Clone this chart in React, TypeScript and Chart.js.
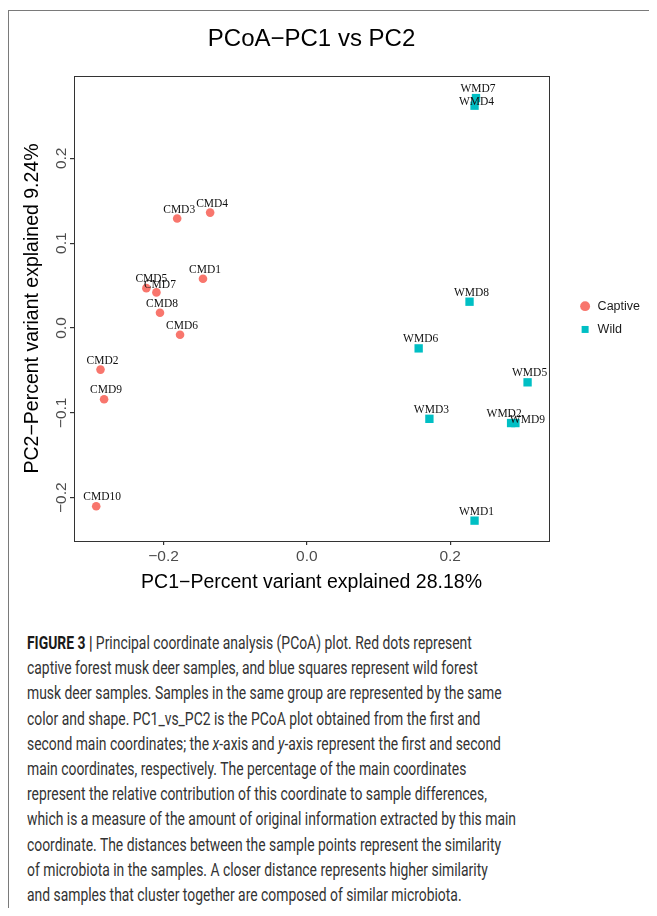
import React, { useEffect, useRef } from 'react';
import { Chart, registerables } from 'chart.js';

Chart.register(...registerables);

// ---------- data ----------
const captiveNames = ['CMD1', 'CMD2', 'CMD3', 'CMD4', 'CMD5', 'CMD6', 'CMD7', 'CMD8', 'CMD9', 'CMD10'];
const captivePC1 = [-0.145, -0.288, -0.181, -0.135, -0.224, -0.177, -0.21, -0.205, -0.283, -0.294];
const captivePC2 = [0.058, -0.049, 0.129, 0.136, 0.047, -0.008, 0.042, 0.018, -0.084, -0.21];

const wildNames = ['WMD1', 'WMD2', 'WMD3', 'WMD4', 'WMD5', 'WMD6', 'WMD7', 'WMD8', 'WMD9'];
const wildPC1 = [0.234, 0.285, 0.171, 0.234, 0.308, 0.156, 0.236, 0.227, 0.291];
const wildPC2 = [-0.227, -0.112, -0.107, 0.262, -0.064, -0.024, 0.271, 0.031, -0.112];

const groupNames = ['Captive', 'Wild'];
const xTickValues = [-0.2, 0.0, 0.2];
const yTickValues = [-0.2, -0.1, 0.0, 0.1, 0.2];
const xLimits = [-0.325, 0.338];
const yLimits = [-0.251, 0.297];

const chartTitle = 'PCoA\u2212PC1 vs PC2';
const xTitle = 'PC1\u2212Percent variant explained 28.18%';
const yTitle = 'PC2\u2212Percent variant explained 9.24%';

const captionLines: { text: string; style?: 'b' | 'i' }[][] = [
  [{ text: 'FIGURE 3 | ', style: 'b' }, { text: 'Principal coordinate analysis (PCoA) plot. Red dots represent' }],
  [{ text: 'captive forest musk deer samples, and blue squares represent wild forest' }],
  [{ text: 'musk deer samples. Samples in the same group are represented by the same' }],
  [{ text: 'color and shape. PC1_vs_PC2 is the PCoA plot obtained from the first and' }],
  [
    { text: 'second main coordinates; the ' },
    { text: 'x', style: 'i' },
    { text: '-axis and ' },
    { text: 'y', style: 'i' },
    { text: '-axis represent the first and second' },
  ],
  [{ text: 'main coordinates, respectively. The percentage of the main coordinates' }],
  [{ text: 'represent the relative contribution of this coordinate to sample differences,' }],
  [{ text: 'which is a measure of the amount of original information extracted by this main' }],
  [{ text: 'coordinate. The distances between the sample points represent the similarity' }],
  [{ text: 'of microbiota in the samples. A closer distance represents higher similarity' }],
  [{ text: 'and samples that cluster together are composed of similar microbiota.' }],
];

// ---------- styling ----------
const RED = '#F8766D';
const CYAN = '#00BFC4';
const SANS = '"Liberation Sans", Arial, sans-serif';
const SERIF = '"Liberation Serif", "Times New Roman", serif';
const CAPTION_FONT = '"Roboto", "Liberation Sans", sans-serif';

const labelNudge: Record<string, [number, number]> = {
  WMD4: [0, 5],
  WMD2: [-9, 0],
  WMD9: [10, 6],
  CMD10: [4, 0],
  CMD5: [3, 0],
  CMD7: [1.5, 2],
};
const datasetNames = [captiveNames, wildNames];

const pointLabelPlugin = {
  id: 'pointLabels',
  afterDatasetsDraw(chart: any) {
    const ctx = chart.ctx;
    ctx.save();
    ctx.font = `11.5px ${SERIF}`;
    ctx.fillStyle = '#111';
    ctx.textAlign = 'center';
    ctx.textBaseline = 'alphabetic';
    chart.data.datasets.forEach((_ds: any, i: number) => {
      const meta = chart.getDatasetMeta(i);
      meta.data.forEach((el: any, j: number) => {
        const name = datasetNames[i][j];
        const [dx, dy] = labelNudge[name] || [0, 0];
        ctx.fillText(name, el.x + 2 + dx, el.y - 6 + dy);
      });
    });
    ctx.restore();
  },
};

const fmt = (v: any) => Number(v).toFixed(1).replace('-', '\u2212');

const measureCtx = typeof document !== 'undefined' ? document.createElement('canvas').getContext('2d') : null;
function captionScale(): number {
  if (!measureCtx) return 0.75;
  measureCtx.font = `400 18.5px ${CAPTION_FONT}`;
  const w = measureCtx.measureText(captionLines[7][0].text).width;
  return 489 / w;
}

export default function App() {
  const canvasRef = useRef<HTMLCanvasElement>(null);

  useEffect(() => {
    const captive = captivePC1.map((x, i) => ({ x, y: captivePC2[i] }));
    const wild = wildPC1.map((x, i) => ({ x, y: wildPC2[i] }));
    const chart = new Chart(canvasRef.current!, {
      type: 'scatter',
      data: {
        datasets: [
          {
            label: groupNames[0],
            data: captive,
            backgroundColor: RED,
            borderColor: RED,
            borderWidth: 0,
            pointStyle: 'circle',
            pointRadius: 4.3,
            pointHoverRadius: 4.3,
          },
          {
            label: groupNames[1],
            data: wild,
            backgroundColor: CYAN,
            borderColor: CYAN,
            borderWidth: 0,
            pointStyle: 'rect',
            pointRadius: 5.9,
            pointHoverRadius: 5.9,
          },
        ],
      },
      options: {
        responsive: false,
        animation: false,
        layout: { padding: { left: 0, top: 0, right: 7, bottom: 0 } },
        plugins: {
          tooltip: { enabled: false },
          title: {
            display: true,
            text: chartTitle,
            fullSize: false,
            color: '#000',
            font: { family: SANS, size: 24, weight: 'normal' },
            padding: { top: 16.5, bottom: 22.7 },
          },
          legend: {
            position: 'right',
            align: 'center',
            fullSize: false,
            title: { display: true, text: '', padding: { top: 4.2, bottom: 0 } },
            labels: {
              usePointStyle: true,
              boxWidth: 12.5,
              boxHeight: 7,
              padding: 10.8,
              color: '#1a1a1a',
              font: { family: SANS, size: 12.5 },
            },
          },
        },
        scales: {
          x: {
            type: 'linear',
            position: 'bottom',
            min: xLimits[0],
            max: xLimits[1],
            afterBuildTicks: (s: any) => {
              s.ticks = xTickValues.map((v) => ({ value: v }));
            },
            afterFit: (s: any) => {
              s.height = 67;
            },
            grid: { display: true, drawOnChartArea: false, drawTicks: true, tickLength: 4, color: '#333', lineWidth: 1.2 },
            border: { display: true, color: '#333', width: 1 },
            ticks: { callback: fmt, color: '#4d4d4d', font: { family: SANS, size: 15.5 }, padding: 2, maxRotation: 0 },
            title: {
              display: true,
              text: xTitle,
              color: '#000',
              font: { family: SANS, size: 19.5 },
              padding: { top: 0, bottom: 13.3 },
            },
          },
          x2: {
            type: 'linear',
            position: 'top',
            min: xLimits[0],
            max: xLimits[1],
            afterFit: (s: any) => {
              s.height = 0;
            },
            grid: { display: false },
            ticks: { display: false },
            border: { display: true, color: '#333', width: 1 },
          },
          y: {
            type: 'linear',
            position: 'left',
            min: yLimits[0],
            max: yLimits[1],
            afterBuildTicks: (s: any) => {
              s.ticks = yTickValues.map((v) => ({ value: v }));
            },
            afterFit: (s: any) => {
              s.width = 66;
            },
            grid: { display: true, drawOnChartArea: false, drawTicks: true, tickLength: 4, color: '#333', lineWidth: 1.2 },
            border: { display: true, color: '#333', width: 1 },
            ticks: {
              callback: fmt,
              color: '#4d4d4d',
              font: { family: SANS, size: 15.5 },
              minRotation: 90,
              maxRotation: 90,
              crossAlign: 'center',
              padding: -7,
            },
            title: {
              display: true,
              text: yTitle,
              color: '#000',
              font: { family: SANS, size: 19.5 },
              padding: { top: 13.3, bottom: 0 },
            },
          },
          y2: {
            type: 'linear',
            position: 'right',
            min: yLimits[0],
            max: yLimits[1],
            afterFit: (s: any) => {
              s.width = 19;
            },
            grid: { display: false },
            ticks: { display: false },
            border: { display: true, color: '#333', width: 1 },
          },
        },
      } as any,
      plugins: [pointLabelPlugin],
    });
    return () => chart.destroy();
  }, []);

  const scale = captionScale();

  return (
    <div style={{ position: 'relative', height: 908, marginBottom: -8, marginRight: -8, background: '#fff' }}>
      <div
        style={{
          position: 'absolute',
          left: 0,
          top: 2,
          right: 0,
          bottom: 0,
          borderTop: '1.5px solid #7a7a7a',
          borderLeft: '1.5px solid #7a7a7a',
        }}
      />
      <canvas
        ref={canvasRef}
        width={649}
        height={600}
        style={{ position: 'absolute', left: 0, top: 0, width: 649, height: 600 }}
      />
      <div
        style={{
          position: 'absolute',
          left: 19,
          top: 623,
          fontFamily: CAPTION_FONT,
          fontSize: 18.5,
          fontWeight: 400,
          lineHeight: '25.2px',
          color: '#333',
        }}
      >
        {captionLines.map((segs, i) => (
          <div
            key={i}
            style={{ whiteSpace: 'nowrap', height: 25.2, transform: `scaleX(${scale})`, transformOrigin: '0 0' }}
          >
            {segs.map((s, j) => (
              <span
                key={j}
                style={
                  s.style === 'b'
                    ? { fontWeight: 700, color: '#1a1a1a' }
                    : s.style === 'i'
                    ? { fontStyle: 'italic' }
                    : undefined
                }
              >
                {s.text}
              </span>
            ))}
          </div>
        ))}
      </div>
    </div>
  );
}
